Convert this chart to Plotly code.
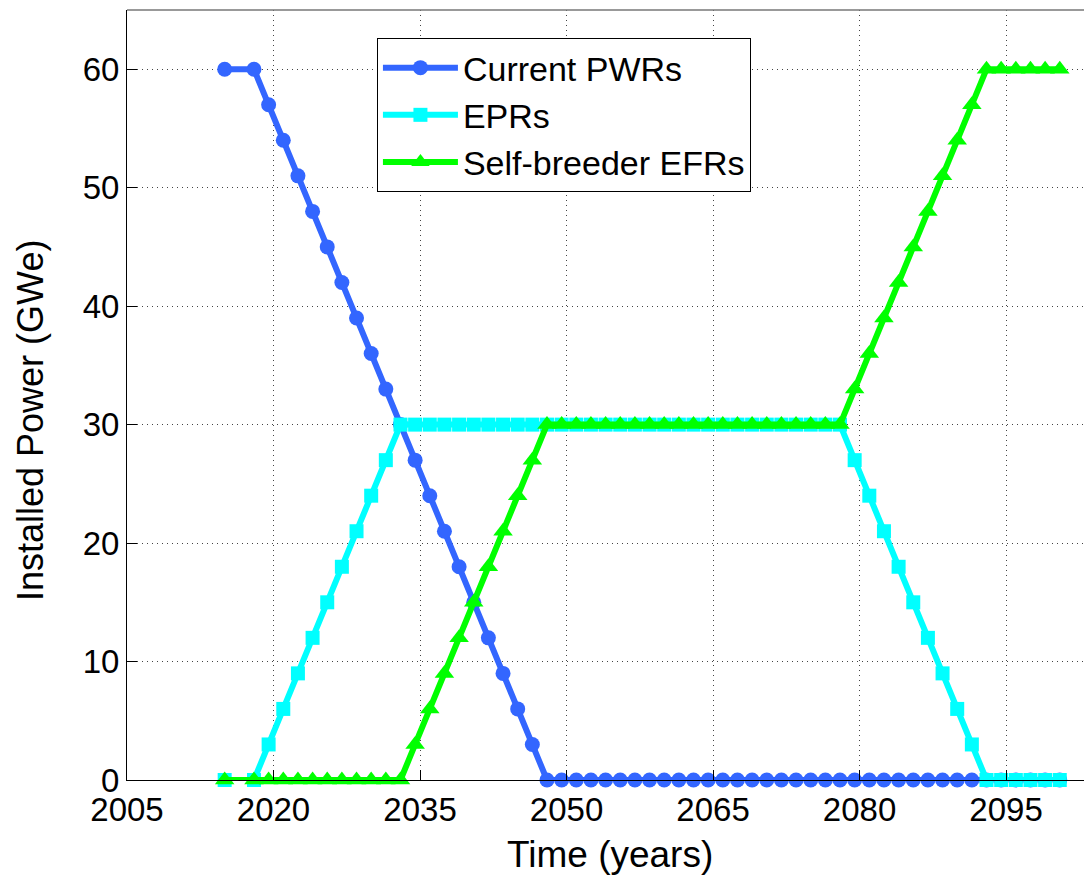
import plotly.graph_objects as go

# ---- data ----
years = [2015, 2018, 2019.5, 2021, 2022.5, 2024, 2025.5, 2027, 2028.5, 2030,
         2031.5, 2033, 2034.5, 2036, 2037.5, 2039, 2040.5, 2042, 2043.5, 2045,
         2046.5, 2048, 2049.5, 2051, 2052.5, 2054, 2055.5, 2057, 2058.5, 2060,
         2061.5, 2063, 2064.5, 2066, 2067.5, 2069, 2070.5, 2072, 2073.5, 2075,
         2076.5, 2078, 2079.5, 2081, 2082.5, 2084, 2085.5, 2087, 2088.5, 2090,
         2091.5, 2093, 2094.5, 2096, 2097.5, 2099, 2100.5]

current_pwrs = [60, 60, 57, 54, 51, 48, 45, 42, 39, 36,
                33, 30, 27, 24, 21, 18, 15, 12, 9, 6,
                3, 0, 0, 0, 0, 0, 0, 0, 0, 0,
                0, 0, 0, 0, 0, 0, 0, 0, 0, 0,
                0, 0, 0, 0, 0, 0, 0, 0, 0, 0,
                0, 0, 0, 0, 0, 0, 0]

eprs = [0, 0, 3, 6, 9, 12, 15, 18, 21, 24,
        27, 30, 30, 30, 30, 30, 30, 30, 30, 30,
        30, 30, 30, 30, 30, 30, 30, 30, 30, 30,
        30, 30, 30, 30, 30, 30, 30, 30, 30, 30,
        30, 30, 27, 24, 21, 18, 15, 12, 9, 6,
        3, 0, 0, 0, 0, 0, 0]

efrs = [0, 0, 0, 0, 0, 0, 0, 0, 0, 0,
        0, 0, 3, 6, 9, 12, 15, 18, 21, 24,
        27, 30, 30, 30, 30, 30, 30, 30, 30, 30,
        30, 30, 30, 30, 30, 30, 30, 30, 30, 30,
        30, 30, 33, 36, 39, 42, 45, 48, 51, 54,
        57, 60, 60, 60, 60, 60, 60]

series_names = ["Current PWRs", "EPRs", "Self-breeder EFRs"]
x_ticks = [2005, 2020, 2035, 2050, 2065, 2080, 2095]
y_ticks = [0, 10, 20, 30, 40, 50, 60]

FONT = "Liberation Sans, Arial, Helvetica, sans-serif"

fig = go.Figure()
styles = [
    (current_pwrs, "#3366FF", "circle", 15),
    (eprs, "#00FFFF", "square", 14),
    (efrs, "#00FF00", "triangle-up", 17),
]
for name, (vals, col, sym, msz) in zip(series_names, styles):
    fig.add_trace(go.Scatter(
        x=years, y=vals, name=name, mode="lines+markers",
        line=dict(color=col, width=6),
        marker=dict(color=col, symbol=sym, size=msz, line=dict(width=0)),
        cliponaxis=False,
    ))

# the page body has an 8px margin, so the figure is 8px smaller than the window
fig.update_layout(
    width=1084, height=868,
    margin=dict(l=119, r=0, t=2, b=96),
    paper_bgcolor="white", plot_bgcolor="white",
    font=dict(family=FONT, size=33, color="black"),
    showlegend=True,
    legend=dict(
        x=0.259, y=0.9636, xanchor="left", yanchor="top",
        bgcolor="white", bordercolor="black", borderwidth=1,
        itemwidth=75,
        font=dict(family=FONT, size=34, color="black"),
    ),
)

fig.update_xaxes(
    range=[2005, 2103.8], tickvals=x_ticks, ticktext=[str(t) for t in x_ticks],
    showline=True, linecolor="black", linewidth=1, mirror=False,
    ticks="inside", ticklen=10, tickcolor="black",
    showgrid=True, gridcolor="#444444", gridwidth=1, griddash="1px,4px",
    zeroline=False, tickfont=dict(size=33),
)
fig.update_yaxes(
    range=[0, 65], tickvals=y_ticks,
    showline=True, linecolor="black", linewidth=1, mirror=False,
    ticks="inside", ticklen=10, tickcolor="black",
    showgrid=True, gridcolor="#444444", gridwidth=1, griddash="1px,4px",
    zeroline=False, tickfont=dict(size=33),
)

# top border of the axes box (right side is cut off in the reference)
fig.add_shape(type="line", xref="paper", yref="paper", x0=0, x1=1, y0=1, y1=1,
              line=dict(color="#777777", width=1.5))

fig.add_annotation(text="Time (years)", xref="paper", yref="paper",
                   x=0.5, y=-0.0974, xanchor="center", yanchor="middle",
                   showarrow=False, font=dict(size=37))
fig.add_annotation(text="Installed Power (GWe)", xref="paper", yref="paper",
                   x=-0.1005, y=0.4662, xanchor="center", yanchor="middle",
                   textangle=-90, showarrow=False, font=dict(size=36))

fig.write_html("out.html")
